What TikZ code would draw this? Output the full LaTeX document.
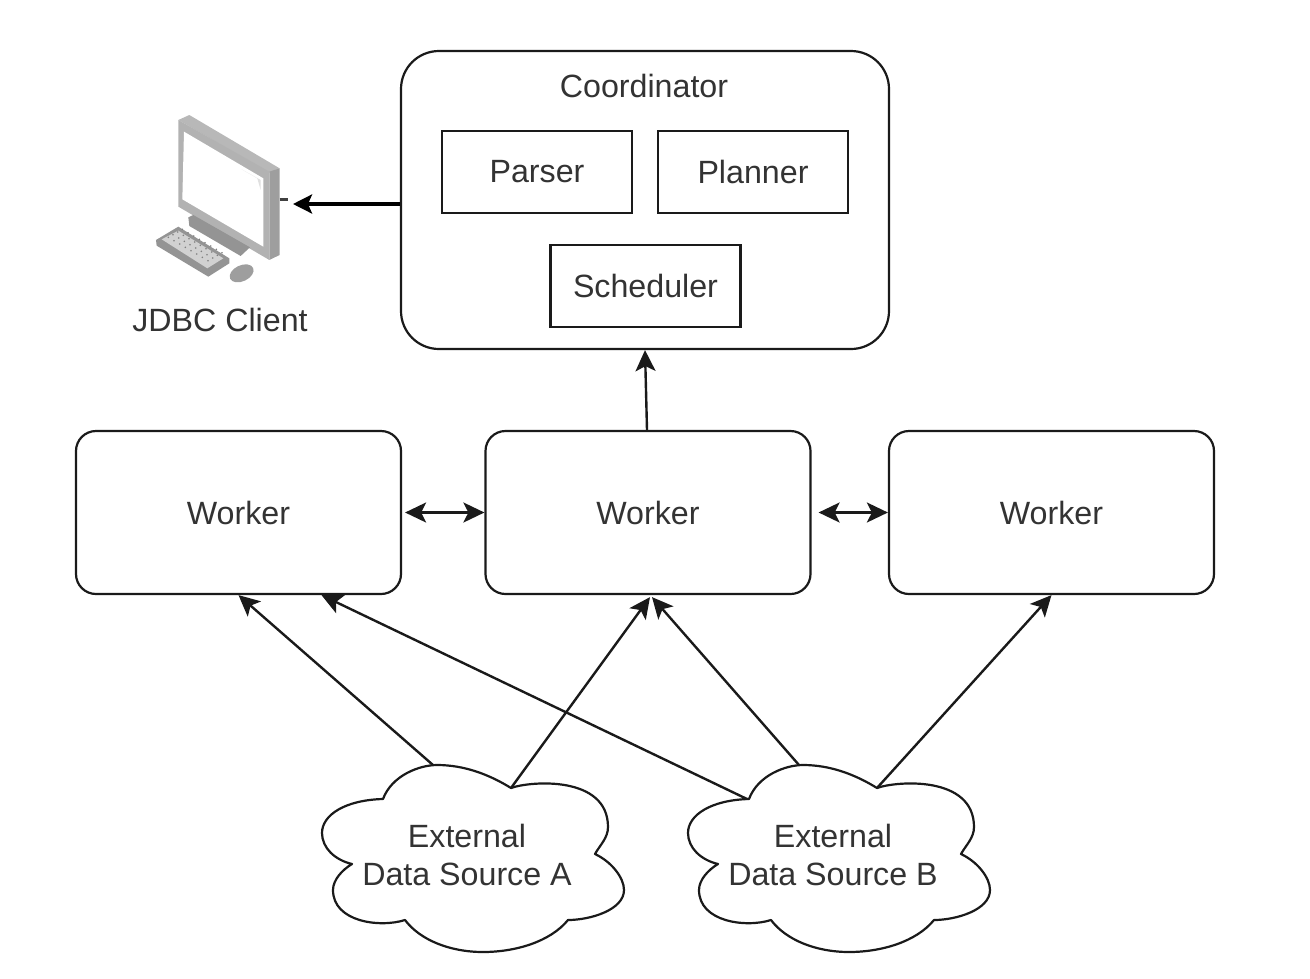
\documentclass[tikz,border=0pt]{standalone}
\usepackage{fontspec}
\setmainfont{Liberation Sans}
\usetikzlibrary{arrows.meta,calc}
\definecolor{ink}{HTML}{1A1A1A}
\definecolor{txt}{HTML}{333333}
\tikzset{
  lbl/.style={text=txt,font=\fontsize{32.2}{38}\selectfont,align=center,inner sep=0pt},
  box/.style={draw=ink,line width=2.2pt,fill=white,inner sep=0pt,text=txt,font=\fontsize{32.2}{38}\selectfont,align=center},
  worker/.style={box,rounded corners=20pt,minimum width=325pt,minimum height=163pt},
  inner box/.style={box,minimum width=190pt,minimum height=82pt},
  conn/.style={draw=ink,line width=2.4pt,-{Stealth[length=21pt,width=20pt,inset=5pt]}},
  biconn/.style={draw=ink,line width=2.4pt,{Stealth[length=21pt,width=20pt,inset=5pt]}-{Stealth[length=21pt,width=20pt,inset=5pt]}},
  cloudline/.style={draw=ink,line width=2.2pt,fill=white,line join=round},
}
\newcommand{\mycloud}[3]{%
  \begin{scope}[shift={(#1pt,0pt)}]
    \draw[cloudline] (383,799) .. controls (392,775) and (420,765) .. (437,765)
      .. controls (465,765) and (490,775) .. (511,788)
      .. controls (530,781) and (608,775) .. (608,827)
      .. controls (608,838) and (600,845) .. (595,854)
      .. controls (612,862) and (624,878) .. (624,890)
      .. controls (624,910) and (590,920) .. (568,920)
      .. controls (550,942) and (515,952) .. (483,952)
      .. controls (450,952) and (420,940) .. (405,920)
      .. controls (380,928) and (333,922) .. (333,890)
      .. controls (333,880) and (342,870) .. (352,864)
      .. controls (335,860) and (322,848) .. (322,833)
      .. controls (322,815) and (345,800) .. (383,799) -- cycle;
    \coordinate (#2l) at (433,765);
    \coordinate (#2r) at (511,788);
    \coordinate (#2w) at (381,799);
    \node[lbl] (#2text) at (467,855) {External\\Data Source #3};
  \end{scope}}
\begin{document}
\begin{tikzpicture}[x=1pt,y=-1pt]
\useasboundingbox (0,0) rectangle (1310,978);
% coordinator
\node[box,rounded corners=38pt,minimum width=488pt,minimum height=298pt] (coord) at (645,200) {};
\node[lbl] (ctitle) at (644,86) {Coordinator};
\node[inner box] (parser) at (537,172) {Parser};
\node[inner box] (planner) at (753,172) {Planner};
\node[inner box] (sched) at (645.5,286) {Scheduler};
% workers
\node[worker] (w1) at (238.5,512.5) {Worker};
\node[worker] (w2) at (648,512.5) {Worker};
\node[worker] (w3) at (1051.5,512.5) {Worker};
% computer
\begin{scope}[shift={(130pt,-100pt)},x=0.3333pt,y=-0.3333pt]
  \fill[black!28] (145,60) -- (178,45) -- (449,205) -- (418,218) -- cycle;
  \fill[black!38] (418,215) -- (449,205) -- (449,465) -- (418,480) -- cycle;
  \fill[black!30] (145,60) -- (418,215) -- (418,480) -- (145,320) -- cycle;
  \fill[white] (162,95) -- (400,235) -- (400,440) -- (157,298) -- cycle;
  \fill[black!12] (335,208) -- (392,240) -- (392,270) -- (382,235) -- cycle;
  \fill[black!42] (175,352) -- (190,345) -- (360,442) -- (332,468) -- (178,378) -- cycle;
  \fill[black!42] (78,420) -- (145,380) -- (298,475) -- (298,490) -- (235,530) -- (80,437) -- cycle;
  \fill[black!18] (95,418) -- (145,392) -- (280,475) -- (232,505) -- cycle;
  \foreach \i in {0,...,7}{\foreach \j in {0,...,3}{
    \fill[black!50] ({115+\i*17+\j*14},{412+\i*10-\j*8}) circle (2.6);
  }}
  \fill[black!38,rotate around={25:(335,520)}] (335,520) ellipse (38 and 24);
  \draw[black!75,line width=2.4pt] (449,298) -- (473,298);
\end{scope}
\coordinate (client) at (293,204);
\node[lbl] (jdbc) at (220,320) {JDBC Client};
% clouds
\mycloud{0}{ca}{A}
\mycloud{366}{cb}{B}
% connectors
\draw[draw=black,line width=3.4pt,-{Stealth[length=19pt,width=19pt,inset=4pt]}] (coord.west |- client) -- (client);
\draw[conn] ($(w2.north)+(-1,0)$) -- (coord.south);
\draw[biconn,shorten <=3pt] (w1.east) -- (w2.west);
\draw[biconn,shorten <=7pt] (w2.east) -- (w3.west);
\draw[conn] (cal) -- (w1.south);
\draw[conn] (car) -- ($(w2.south)+(2,2)$);
\draw[conn] (cbw) -- ($(w1.south)+(83,0)$);
\draw[conn] (cbl) -- ($(w2.south)+(4,2)$);
\draw[conn] (cbr) -- (w3.south);
\end{tikzpicture}
\end{document}
